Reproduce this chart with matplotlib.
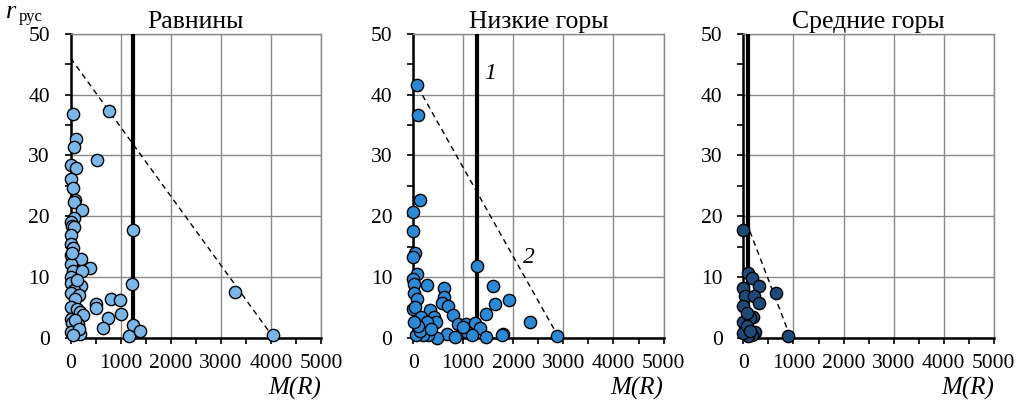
import matplotlib.pyplot as plt
from matplotlib.ticker import MultipleLocator

plt.rcParams['font.family'] = ['Liberation Serif', 'DejaVu Serif']
plt.rcParams['xtick.major.pad'] = 8
plt.rcParams['ytick.major.pad'] = 11
plt.rcParams['xtick.labelsize'] = 15.5
plt.rcParams['ytick.labelsize'] = 15.5

titles = ['Равнины', 'Низкие горы', 'Средние горы']
colors = ['#7ab6e6', '#2a8ad6', '#1d4a78']

# Равнины
x_plain = [50, 100, 65, 530, 15, 100, 0, 50, 85, 70, 230, 65, 0, 20, 60, 0, 10, 50, 0, 85,
           215, 0, 380, 50, 230, 0, 0, 200, 1230, 65, 0, 170, 85, 800, 990, 500, 500, 15, 130,
           180, 250, 1000, 740, 0, 20, 150, 1245, 640, 0, 180, 1170, 1375, 3275, 4050, 775, 1245,
           30, 120, 90, 160, 40]
y_plain = [36.8, 32.7, 31.4, 29.3, 28.5, 28.0, 26.2, 24.6, 22.7, 22.3, 21.0, 19.7, 19.1, 18.4, 18.3,
           16.9, 15.5, 14.8, 13.6, 12.9, 13.0, 12.2, 11.5, 11.0, 11.0, 10.0, 9.0, 8.6, 8.8, 7.8,
           7.3, 7.0, 6.4, 6.4, 6.2, 5.5, 4.95, 5.1, 4.8, 4.2, 3.7, 3.85, 3.2, 3.1, 2.4, 2.3, 2.1,
           1.6, 0.9, 0.7, 0.3, 1.1, 7.6, 0.5, 37.3, 17.7, 14.0, 9.5, 3.0, 1.5, 0.5]

# Низкие горы
x_low = [80, 100, 135, 0, 0, 33, 0, 80, 0, 10, 270, 615, 615, 575, 690, 20, 70, 0, 40, 790,
         335, 420, 450, 165, 270, 900, 1055, 1235, 1325, 1070, 1170, 1270, 1460, 1590, 1640,
         1905, 1790, 1770, 2325, 2875, 1445, 670, 835, 470, 300, 190, 50, 135, 90, 20, 350, 1000]
y_low = [41.6, 36.6, 22.7, 20.7, 17.6, 14.0, 13.3, 10.5, 9.7, 8.9, 8.7, 8.2, 6.7, 5.7, 5.2, 7.3,
         6.4, 4.8, 5.1, 3.8, 4.5, 3.5, 2.6, 3.4, 2.6, 2.2, 2.3, 2.4, 1.65, 0.9, 0.5, 11.8, 4.0,
         8.5, 5.5, 6.3, 0.7, 0.5, 2.6, 0.3, 0.2, 0.7, 0.2, 0.0, 0.4, 0.5, 0.5, 1.2, 2.0, 2.6,
         1.5, 1.8]

# Средние горы
x_mid = [0, 100, 165, 320, 650, 0, 33, 215, 315, 0, 190, 0, 235, 65, 33, 165, 100, 900, 0,
         130, 65, 80, 140]
y_mid = [17.7, 10.6, 9.8, 8.6, 7.4, 8.2, 6.8, 6.9, 5.8, 5.2, 3.4, 2.6, 0.9, 1.6, 0.8, 0.4, 0.3,
         0.3, 0.8, 3.3, 4.1, 2.0, 1.2]

xs = [x_plain, x_low, x_mid]
ys = [y_plain, y_low, y_mid]

# вертикальная граница (1) и огибающая (2)
vline_x = [1250, 1270, 100]
dash_x = [[0, 4000], [90, 2870], [130, 920]]
dash_y = [[46.0, 0.6], [41.3, 0.6], [17.5, 0.5]]

fig = plt.figure(figsize=(10.24, 4.08), dpi=100)
lefts = [0.0690, 0.4035, 0.7260]

for i in range(3):
    ax = fig.add_axes([lefts[i], 0.172, 0.2445, 0.745])
    ax.set_xlim(0, 5000)
    ax.set_ylim(0, 50)
    ax.xaxis.set_major_locator(MultipleLocator(1000))
    ax.xaxis.set_minor_locator(MultipleLocator(500))
    ax.yaxis.set_major_locator(MultipleLocator(10))
    ax.yaxis.set_minor_locator(MultipleLocator(5))
    ax.grid(True, which='major', color='#8a8a8a', linewidth=1.0)
    ax.set_axisbelow(True)
    ax.tick_params(which='both', direction='out', length=4, width=1.2, color='black')
    for s in ['top', 'right']:
        ax.spines[s].set_color('#8a8a8a')
        ax.spines[s].set_linewidth(1.0)
    for s in ['left', 'bottom']:
        ax.spines[s].set_color('black')
        ax.spines[s].set_linewidth(1.8)

    ax.plot(dash_x[i], dash_y[i], color='black', linestyle=(0, (4, 3)), linewidth=1.0, zorder=3)
    ax.axvline(vline_x[i], color='black', linewidth=3.0, zorder=3)
    ax.scatter(xs[i], ys[i], s=78, color=colors[i], edgecolors='black', linewidths=1.0,
               zorder=4, clip_on=False)

    ax.set_title(titles[i], fontsize=18.5, pad=4)
    ax.text(1.0, -0.128, 'M(R)', transform=ax.transAxes, ha='right', va='top',
            fontsize=18, style='italic')

    if i == 1:
        ax.text(1420, 43.5, '1', fontsize=17, style='italic', ha='left', va='center')
        ax.text(2200, 13.2, '2', fontsize=17, style='italic', ha='left', va='center')

fig.text(0.006, 0.956, 'r', fontsize=19, style='italic', ha='left', va='baseline')
fig.text(0.018, 0.949, 'рус', fontsize=12, ha='left', va='baseline')

fig.savefig('out.png', dpi=100)
